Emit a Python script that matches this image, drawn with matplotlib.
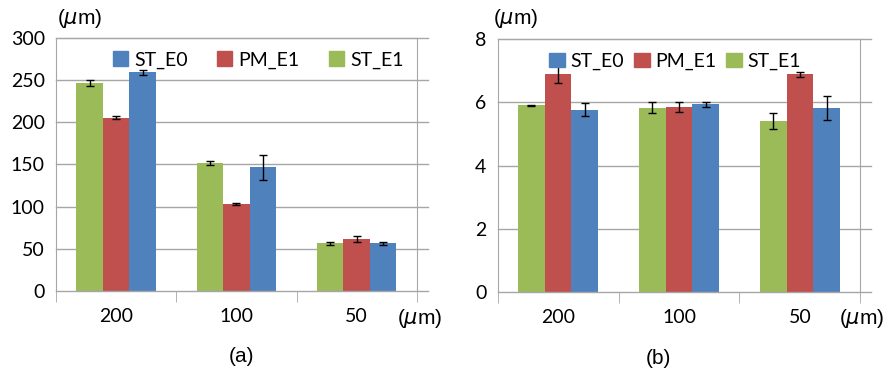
import numpy as np
import matplotlib
matplotlib.use('Agg')
import matplotlib.pyplot as plt
from matplotlib.patches import Patch

# categories (x tick labels)
sizes = ['200', '100', '50']

# panel (a) values and error bars
a_st_e1 = [246.5, 151.5, 56.5]
a_st_e1_err = [4, 2.5, 1.5]
a_pm_e1 = [205.5, 103, 62]
a_pm_e1_err = [2, 1, 3.5]
a_st_e0 = [259.5, 146.5, 56.5]
a_st_e0_err = [3, 15, 1.5]

# panel (b) values and error bars
b_st_e1 = [5.9, 5.83, 5.4]
b_st_e1_err = [0.02, 0.17, 0.26]
b_pm_e1 = [6.88, 5.85, 6.88]
b_pm_e1_err = [0.26, 0.15, 0.09]
b_st_e0 = [5.77, 5.93, 5.82]
b_st_e0_err = [0.2, 0.07, 0.38]

GREEN = '#9BBB59'
RED = '#C0504D'
BLUE = '#4F81BD'
GRID = '#A6A6A6'

tick_font = 'Lato'
label_font = 'Liberation Sans'

fig = plt.figure(figsize=(8.87, 3.75), dpi=100)


def draw_panel(ax, series, ymax, ystep, colsp, legx):
    x = np.arange(len(sizes))
    w = 0.22
    offsets = [-w, 0, w]
    colors = [GREEN, RED, BLUE]
    for (vals, errs), off, c in zip(series, offsets, colors):
        ax.bar(x + off, vals, width=w, color=c, zorder=3)
        ax.errorbar(x + off, vals, yerr=errs, fmt='none', ecolor='black',
                    elinewidth=1, capsize=3, capthick=1, zorder=4)

    ax.set_xlim(-0.5, len(sizes) - 0.5)
    ax.set_ylim(0, ymax)
    yt = np.arange(0, ymax + ystep / 2, ystep)
    ax.set_yticks(yt)
    ax.set_yticklabels([f'{v:g}' for v in yt], fontsize=14, family=tick_font)
    for v in yt[1:]:
        ax.axhline(v, xmin=0, xmax=1.03, color=GRID, lw=1, clip_on=False, zorder=1)
    ax.axhline(0, xmin=0, xmax=1.03, color=GRID, lw=1, clip_on=False, zorder=5)

    ax.set_xticks(x)
    ax.set_xticklabels(sizes, fontsize=14, family=tick_font)
    ax.set_xticks(np.arange(-0.5, len(sizes)), minor=True)
    ax.tick_params(axis='x', which='major', length=0, pad=12)
    ax.tick_params(axis='x', which='minor', length=8, color=GRID, direction='out')
    ax.tick_params(axis='y', length=0, pad=8)

    for s in ['left', 'right', 'top']:
        ax.spines[s].set_color(GRID)
    ax.spines['bottom'].set_visible(False)

    handles = [Patch(color=BLUE, label='ST_E0'),
               Patch(color=RED, label='PM_E1'),
               Patch(color=GREEN, label='ST_E1')]
    ax.legend(handles=handles, ncol=3, loc='upper center',
              bbox_to_anchor=(legx, 1.0), frameon=False,
              prop={'family': tick_font, 'size': 14},
              handlelength=0.8, handleheight=0.8, handletextpad=0.3,
              columnspacing=colsp, borderaxespad=0.3)


ax1 = fig.add_axes([0.063, 0.224, 0.407, 0.675])
draw_panel(ax1, [(a_st_e1, a_st_e1_err), (a_pm_e1, a_pm_e1_err),
                 (a_st_e0, a_st_e0_err)], 300, 50, 1.5, 0.56)

ax2 = fig.add_axes([0.561, 0.221, 0.409, 0.675])
draw_panel(ax2, [(b_st_e1, b_st_e1_err), (b_pm_e1, b_pm_e1_err),
                 (b_st_e0, b_st_e0_err)], 8, 2, 0.5, 0.49)

# unit labels and panel captions
fig.text(80 / 887, 1 - 19 / 375, r'($\mu$m)', fontsize=15, family=label_font,
         ha='center', va='center')
fig.text(516 / 887, 1 - 19 / 375, r'($\mu$m)', fontsize=15, family=label_font,
         ha='center', va='center')
fig.text(420 / 887, 1 - 319 / 375, r'($\mu$m)', fontsize=15, family=label_font,
         ha='center', va='center')
fig.text(862 / 887, 1 - 319 / 375, r'($\mu$m)', fontsize=15, family=label_font,
         ha='center', va='center')
fig.text(242 / 887, 1 - 357 / 375, '(a)', fontsize=15, family=label_font,
         ha='center', va='center')
fig.text(658 / 887, 1 - 358 / 375, '(b)', fontsize=15, family=label_font,
         ha='center', va='center')

fig.savefig('out.png', dpi=100)
